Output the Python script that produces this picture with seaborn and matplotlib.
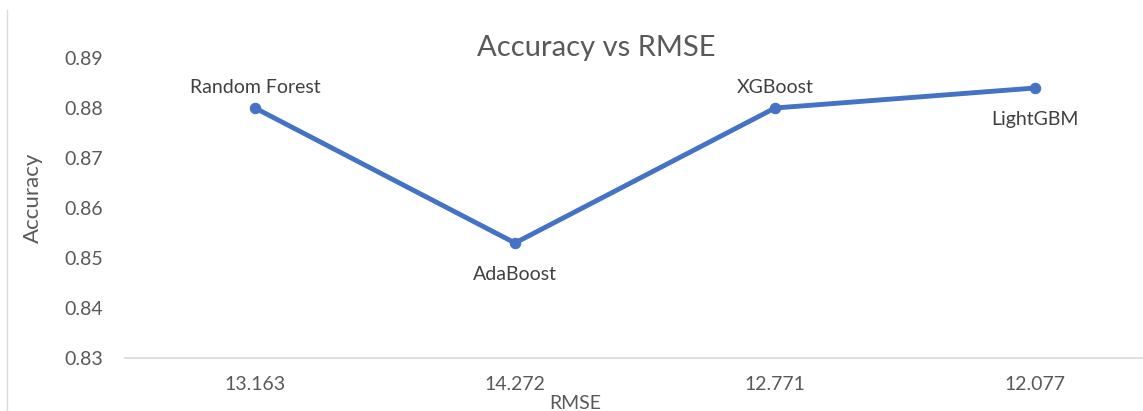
import matplotlib
matplotlib.use('Agg')
import matplotlib.pyplot as plt
import seaborn as sns
import pandas as pd
from matplotlib.lines import Line2D

# data
rmse_labels = ['13.163', '14.272', '12.771', '12.077']
accuracy = [0.880, 0.853, 0.880, 0.884]
models = ['Random Forest', 'AdaBoost', 'XGBoost', 'LightGBM']
label_above = [True, False, True, False]
y_ticks = [0.83, 0.84, 0.85, 0.86, 0.87, 0.88, 0.89]

df = pd.DataFrame({'rmse': rmse_labels, 'accuracy': accuracy, 'model': models})

sns.set_style('white')
plt.rcParams['font.family'] = ['Lato', 'DejaVu Sans']

GRAY = '#595959'
BLUE = '#4472C4'

fig = plt.figure(figsize=(11.43, 4.11), dpi=100)
ax = fig.add_axes([125 / 1143, 53 / 411, 1040 / 1143, 300 / 411])

sns.lineplot(data=df, x='rmse', y='accuracy', sort=False, ax=ax,
             color=BLUE, linewidth=3.5, marker='o', markersize=7.5,
             markeredgecolor=BLUE)

for i, (m, acc, above) in enumerate(zip(models, accuracy, label_above)):
    ax.annotate(m, (i, acc), xytext=(0, 15 if above else -23),
                textcoords='offset points', ha='center', va='center',
                fontsize=14, color='#404040')

ax.set_xlim(-0.5, 3.5)
ax.set_ylim(0.83, 0.89)
ax.set_yticks(y_ticks)
ax.set_yticklabels([f'{t:.2f}' for t in y_ticks])

for s in ['top', 'right', 'left']:
    ax.spines[s].set_visible(False)
ax.spines['bottom'].set_color('#d9d9d9')
ax.spines['bottom'].set_linewidth(1.2)

ax.tick_params(axis='y', length=0, pad=16, labelsize=14, labelcolor=GRAY)
ax.tick_params(axis='x', length=0, pad=13, labelsize=14, labelcolor=GRAY)

ax.set_xlabel('RMSE', fontsize=14, color=GRAY)
ax.xaxis.set_label_coords(0.433, -0.123)
ax.set_ylabel('Accuracy', fontsize=16, color=GRAY)
ax.yaxis.set_label_coords(-0.079, 0.533)

ax.text(0.453, 1.033, 'Accuracy vs RMSE', transform=ax.transAxes,
        ha='center', va='center', fontsize=21, color=GRAY)

# chart-area border on the left
fig.add_artist(Line2D([7 / 1143, 7 / 1143], [0, 1 - 10 / 411],
                      color='#d9d9d9', linewidth=1))

fig.savefig('out.png', dpi=100)
